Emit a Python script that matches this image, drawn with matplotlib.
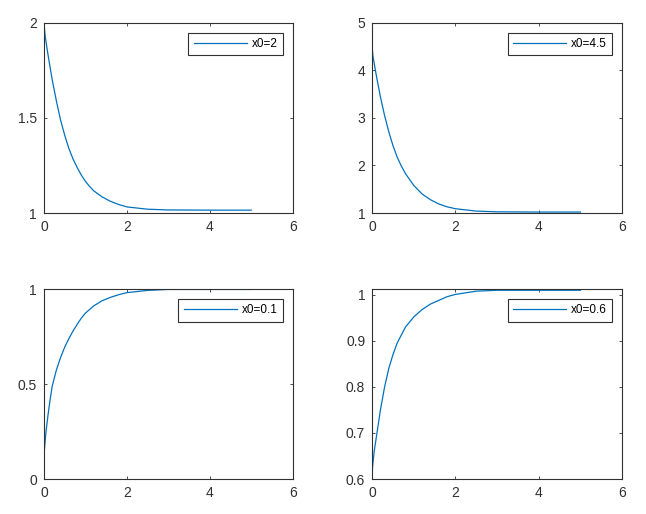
import matplotlib
matplotlib.use("Agg")
import matplotlib.pyplot as plt

# values
t_a = [0, 0.03, 0.1, 0.2, 0.3, 0.4, 0.5, 0.6, 0.7, 0.8, 0.9, 1.0, 1.1, 1.2, 1.4, 1.6, 1.8,
       2.0, 2.5, 3.0, 4.0, 5.0]
x_a = [2.0, 1.93, 1.83, 1.70, 1.59, 1.49, 1.41, 1.34, 1.285, 1.24, 1.20, 1.167, 1.14, 1.117,
       1.085, 1.062, 1.045, 1.032, 1.02, 1.016, 1.015, 1.015]

t_b = [0, 0.02, 0.1, 0.2, 0.3, 0.4, 0.5, 0.6, 0.7, 0.8, 1.0, 1.2, 1.4, 1.6, 1.8, 2.0, 2.5,
       3.0, 4.0, 5.0]
x_b = [4.5, 4.3, 3.90, 3.44, 3.05, 2.71, 2.42, 2.18, 1.99, 1.83, 1.58, 1.40, 1.28, 1.19, 1.13,
       1.09, 1.04, 1.025, 1.02, 1.02]

t_c = [0, 0.01, 0.05, 0.1, 0.15, 0.2, 0.3, 0.4, 0.5, 0.6, 0.7, 0.8, 0.9, 1.0, 1.2, 1.4, 1.6,
       1.8, 2.0, 2.5, 3.0, 4.0, 5.0]
x_c = [0.1, 0.15, 0.25, 0.34, 0.42, 0.49, 0.575, 0.64, 0.695, 0.74, 0.78, 0.815, 0.848,
       0.875, 0.913, 0.94, 0.958, 0.972, 0.983, 0.995, 1.0, 1.0, 1.0]

t_d = [0, 0.01, 0.05, 0.1, 0.2, 0.3, 0.4, 0.5, 0.6, 0.8, 1.0, 1.2, 1.4, 1.6, 1.8, 2.0, 2.5,
       3.0, 4.0, 5.0]
x_d = [0.6, 0.625, 0.66, 0.69, 0.75, 0.80, 0.84, 0.87, 0.895, 0.93, 0.952, 0.968, 0.98,
       0.988, 0.996, 1.001, 1.008, 1.01, 1.01, 1.01]

labels = ['x0=2', 'x0=4.5', 'x0=0.1', 'x0=0.6']
ylims = [(1, 2), (1, 5), (0, 1.003), (0.6, 1.013)]
yticks = [[1, 1.5, 2], [1, 2, 3, 4, 5], [0, 0.5, 1], [0.6, 0.7, 0.8, 0.9, 1]]

plt.rcParams['font.family'] = ['Liberation Sans', 'DejaVu Sans']

fig = plt.figure(figsize=(6.46, 5.14), dpi=100)
boxes = [[0.068, 0.5856, 0.385, 0.370],
         [0.576, 0.5856, 0.387, 0.370],
         [0.068, 0.068, 0.385, 0.370],
         [0.576, 0.068, 0.387, 0.370]]
series = [(t_a, x_a), (t_b, x_b), (t_c, x_c), (t_d, x_d)]
grey = '#303030'

for box, (t, x), lab, yl, yt in zip(boxes, series, labels, ylims, yticks):
    ax = fig.add_axes(box)
    ax.plot(t, x, color='#0072BD', lw=0.9, label=lab)
    ax.set_xlim(0, 6)
    ax.set_ylim(*yl)
    ax.set_xticks([0, 2, 4, 6])
    ax.set_yticks(yt)
    ax.set_yticklabels(['{:g}'.format(v) for v in yt])
    ax.tick_params(direction='in', length=2.5, width=0.6, top=True, right=True,
                   labelsize=10, colors=grey, pad=5)
    for sp in ax.spines.values():
        sp.set_color(grey)
        sp.set_linewidth(0.8)
    leg = ax.legend(loc='upper right', fontsize=8.5, handlelength=4.5,
                    handletextpad=0.4, borderaxespad=0.85, fancybox=False,
                    framealpha=1, borderpad=0.45)
    leg.get_frame().set_edgecolor(grey)
    leg.get_frame().set_linewidth(0.8)

plt.savefig('out.png', dpi=100)
